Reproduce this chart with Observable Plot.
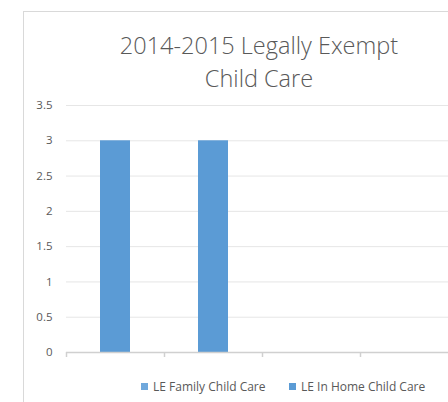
<!DOCTYPE html>
<html>
<head>
<meta charset="utf-8">
<script src="https://cdn.jsdelivr.net/npm/d3@7"></script>
<script src="https://cdn.jsdelivr.net/npm/@observablehq/plot@0.6"></script>
<style>
  html, body { margin: 0; padding: 0; background: #fff; overflow: hidden; width: 448px; height: 402px; }
  #frame { position: absolute; left: 23px; top: 11px; width: 600px; height: 600px;
           border-left: 1.5px solid #d9d9d9; border-top: 1.5px solid #d9d9d9; }
  #title { position: absolute; left: 0; width: 518px; top: 29px; text-align: center;
           font-family: "Open Sans", sans-serif; font-weight: 300; font-size: 23.5px; line-height: 33px; color: #595959; }
  #chart { position: absolute; left: 0; top: 90px; }
  #legend { position: absolute; top: 378px; left: 0; width: 448px; font-family: "Open Sans", sans-serif;
            font-size: 12px; color: #595959; }
  .item { position: absolute; white-space: nowrap; }
  .sw { display: inline-block; width: 7px; height: 7px; margin-right: 5px; vertical-align: 1px; }
</style>
</head>
<body>
<div id="frame"></div>
<div id="title">2014-2015 Legally Exempt<br>Child Care</div>
<div id="chart"></div>
<div id="legend"></div>
<script>
const categories = ["1", "2", "3", "4"];
const values = [3, 3, null, null];
const seriesNames = ["LE Family Child Care", "LE In Home Child Care"];
const yTicks = [0, 0.5, 1, 1.5, 2, 2.5, 3, 3.5];

const data = categories.map((c, i) => ({category: c, value: values[i]}));
const xRange = [66, 458];
const step = (xRange[1] - xRange[0]) / categories.length;

const chart = Plot.plot({
  width: 448,
  height: 280,
  marginTop: 15,
  marginBottom: 18,
  marginLeft: 66,
  marginRight: 0,
  style: {fontFamily: "Open Sans, sans-serif", fontSize: "11.5px", color: "#595959", background: "transparent"},
  x: {domain: categories, range: xRange, paddingInner: 0.694, paddingOuter: 0.347, align: 0.5, axis: null},
  y: {domain: [0, 3.5], ticks: yTicks, label: null},
  marks: [
    Plot.gridY(yTicks, {stroke: "#e6e6e6", strokeOpacity: 1, strokeWidth: 1}),
    Plot.axisY(yTicks, {tickSize: 0, tickPadding: 14, tickFormat: d => String(d), fill: "#595959", fontSize: 11.5, label: null}),
    Plot.barY(data.filter(d => d.value != null), {x: "category", y: "value", fill: "#5b9bd5"}),
    Plot.ruleY([0], {stroke: "#d0d0d0", strokeWidth: 1.5}),
    Plot.ruleX(categories, {x: d => d, dx: -step / 2, y1: 0, y2: 0, insetBottom: -5, stroke: "#d0d0d0", strokeWidth: 1.5})
  ]
});
document.getElementById("chart").appendChild(chart);

const legendColors = ["#6fa8dc", "#5b9bd5"];
const legendX = [141, 289];
const legend = document.getElementById("legend");
seriesNames.forEach((name, i) => {
  const item = document.createElement("div");
  item.className = "item";
  item.style.left = legendX[i] + "px";
  item.innerHTML = `<span class="sw" style="background:${legendColors[i]}"></span>${name}`;
  legend.appendChild(item);
});
</script>
</body>
</html>
